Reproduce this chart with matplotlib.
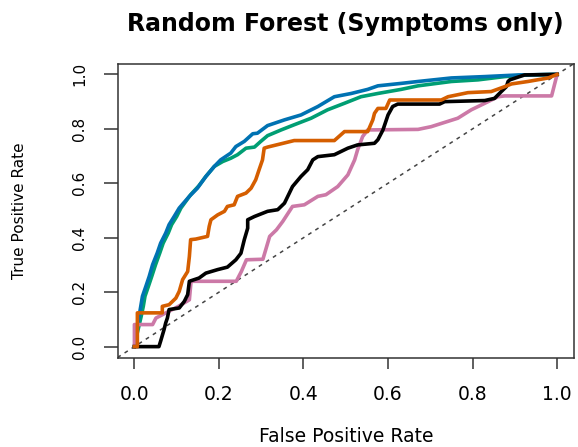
import matplotlib
matplotlib.use("Agg")
import matplotlib.pyplot as plt

# ---- data ----
title = "Random Forest (Symptoms only)"
xlabel = "False Positive Rate"
ylabel = "True Positive Rate"
ticks = [0.0, 0.2, 0.4, 0.6, 0.8, 1.0]
tick_labels = ["0.0", "0.2", "0.4", "0.6", "0.8", "1.0"]

green_fpr = [0, 0.005, 0.016, 0.021, 0.025, 0.033, 0.041, 0.050, 0.060, 0.068,
             0.080, 0.088, 0.100, 0.110, 0.133, 0.152, 0.169, 0.189, 0.209, 0.228,
             0.244, 0.264, 0.284, 0.299, 0.315, 0.347, 0.378, 0.418, 0.457, 0.497,
             0.536, 0.576, 0.631, 0.671, 0.750, 0.813, 0.876, 0.931, 1.0]
green_tpr = [0, 0.038, 0.111, 0.148, 0.185, 0.221, 0.258, 0.301, 0.344, 0.380,
             0.417, 0.448, 0.478, 0.509, 0.558, 0.590, 0.625, 0.662, 0.680, 0.692,
             0.705, 0.729, 0.733, 0.754, 0.775, 0.796, 0.815, 0.839, 0.870, 0.894,
             0.918, 0.930, 0.945, 0.958, 0.974, 0.980, 0.992, 0.998, 1.0]

blue_fpr = [0, 0.003, 0.011, 0.015, 0.019, 0.027, 0.035, 0.043, 0.054, 0.062,
            0.074, 0.082, 0.094, 0.106, 0.130, 0.149, 0.169, 0.189, 0.204, 0.228,
            0.240, 0.260, 0.280, 0.291, 0.315, 0.355, 0.394, 0.434, 0.473, 0.513,
            0.552, 0.576, 0.631, 0.671, 0.750, 0.829, 0.908, 1.0]
blue_tpr = [0, 0.038, 0.111, 0.148, 0.185, 0.221, 0.258, 0.301, 0.344, 0.380,
            0.417, 0.448, 0.478, 0.509, 0.552, 0.582, 0.625, 0.662, 0.686, 0.711,
            0.735, 0.754, 0.782, 0.784, 0.812, 0.833, 0.851, 0.882, 0.918, 0.930,
            0.945, 0.958, 0.967, 0.974, 0.987, 0.992, 0.998, 1.0]

pink_fpr = [0, 0, 0.043, 0.051, 0.103, 0.130, 0.134, 0.241, 0.253, 0.265,
            0.304, 0.320, 0.336, 0.351, 0.374, 0.402, 0.434, 0.453, 0.481, 0.505,
            0.521, 0.528, 0.540, 0.552, 0.671, 0.702, 0.765, 0.797, 0.829, 0.860,
            0.876, 0.987, 1.0]
pink_tpr = [0, 0.081, 0.081, 0.105, 0.147, 0.172, 0.240, 0.240, 0.276, 0.319,
            0.321, 0.405, 0.429, 0.460, 0.515, 0.521, 0.552, 0.558, 0.588, 0.631,
            0.686, 0.723, 0.772, 0.796, 0.798, 0.808, 0.839, 0.870, 0.894, 0.918,
            0.921, 0.921, 1.0]

black_fpr = [0, 0.058, 0.062, 0.070, 0.074, 0.078, 0.082, 0.106, 0.118, 0.126,
             0.130, 0.153, 0.169, 0.197, 0.220, 0.240, 0.252, 0.260, 0.268, 0.268,
             0.284, 0.315, 0.339, 0.355, 0.374, 0.394, 0.410, 0.422, 0.434, 0.473,
             0.505, 0.528, 0.568, 0.576, 0.588, 0.600, 0.611, 0.623, 0.722, 0.734,
             0.829, 0.852, 0.868, 0.880, 0.884, 0.888, 0.923, 1.0]
black_tpr = [0, 0, 0.020, 0.062, 0.087, 0.105, 0.136, 0.142, 0.166, 0.191,
             0.240, 0.252, 0.270, 0.283, 0.292, 0.319, 0.343, 0.393, 0.435, 0.466,
             0.478, 0.497, 0.503, 0.527, 0.588, 0.625, 0.650, 0.686, 0.698, 0.705,
             0.729, 0.741, 0.747, 0.760, 0.796, 0.851, 0.882, 0.891, 0.891, 0.900,
             0.904, 0.912, 0.937, 0.955, 0.974, 0.980, 0.998, 1.0]

orange_fpr = [0, 0.007, 0.007, 0.066, 0.066, 0.082, 0.098, 0.106, 0.114, 0.126,
              0.130, 0.133, 0.145, 0.173, 0.177, 0.181, 0.197, 0.213, 0.220, 0.236,
              0.244, 0.264, 0.276, 0.287, 0.295, 0.303, 0.307, 0.315, 0.378, 0.473,
              0.497, 0.552, 0.564, 0.568, 0.576, 0.595, 0.604, 0.726, 0.742, 0.789,
              0.844, 0.876, 0.892, 0.931, 0.979, 1.0]
orange_tpr = [0, 0, 0.124, 0.124, 0.148, 0.154, 0.178, 0.203, 0.246, 0.276,
              0.331, 0.393, 0.395, 0.405, 0.442, 0.466, 0.484, 0.497, 0.515, 0.521,
              0.552, 0.564, 0.582, 0.613, 0.650, 0.686, 0.729, 0.733, 0.757, 0.757,
              0.790, 0.790, 0.833, 0.857, 0.875, 0.875, 0.906, 0.906, 0.918, 0.933,
              0.937, 0.955, 0.965, 0.974, 0.987, 1.0]

diag = [-0.04, 1.04]

# ---- figure ----
plt.rcParams['font.family'] = ['DejaVu Sans']
fig = plt.figure(figsize=(5.78, 4.47), dpi=100)
ax = fig.add_axes([0.2033, 0.2002, 0.7898, 0.6577])

lw = 2.6
ax.plot(diag, diag, color='#444444', lw=1.1, ls=(0, (2.5, 3)), zorder=1)
ax.plot(green_fpr, green_tpr, color='#009E73', lw=lw, zorder=2)
ax.plot(blue_fpr, blue_tpr, color='#0072B2', lw=lw, zorder=3)
ax.plot(pink_fpr, pink_tpr, color='#CC79A7', lw=lw, zorder=4)
ax.plot(black_fpr, black_tpr, color='#000000', lw=lw, zorder=5)
ax.plot(orange_fpr, orange_tpr, color='#D55E00', lw=lw, zorder=6)

ax.set_xlim(-0.04, 1.04)
ax.set_ylim(-0.04, 1.04)
ax.set_xticks(ticks)
ax.set_xticklabels(tick_labels, fontsize=13.5)
ax.set_yticks(ticks)
ax.set_yticklabels(tick_labels, fontsize=11, rotation=90, va='center')
ax.tick_params(axis='x', length=8, width=1.1, pad=12, colors='#333333', labelcolor='black')
ax.tick_params(axis='y', length=10, width=1.1, pad=12, colors='#333333', labelcolor='black')
for s in ax.spines.values():
    s.set_color('#333333')
    s.set_linewidth(1.1)

ax.set_xlabel(xlabel, fontsize=13.5, va='center')
ax.set_ylabel(ylabel, fontsize=11, va='center')
ax.xaxis.set_label_coords(0.5, -0.27)
ax.yaxis.set_label_coords(-0.2136, 0.5)

fig.text(0.598, 0.946, title, fontsize=17, fontweight='bold', ha='center', va='center')

fig.savefig('out.png', dpi=100)
